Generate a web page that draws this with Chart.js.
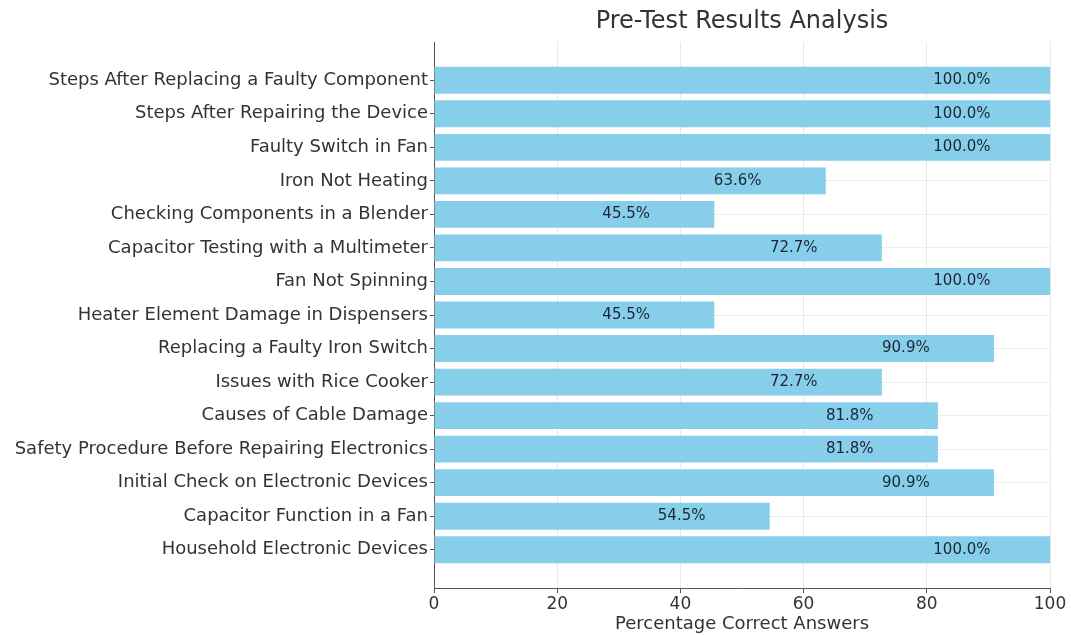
<!DOCTYPE html>
<html>
<head>
<meta charset="utf-8">
<title>Pre-Test Results Analysis</title>
<script src="https://cdn.jsdelivr.net/npm/chart.js@4.4.1/dist/chart.umd.min.js"></script>
<style>
    html, body { margin: 0; padding: 0; background: #ffffff; }
    #wrap { width: 1071px; height: 635px; }
</style>
</head>
<body>
<div id="wrap"><canvas id="resultsChart"></canvas></div>
<script>
// Question topics, listed top to bottom as in the picture
const topics = [
    "Steps After Replacing a Faulty Component",
    "Steps After Repairing the Device",
    "Faulty Switch in Fan",
    "Iron Not Heating",
    "Checking Components in a Blender",
    "Capacitor Testing with a Multimeter",
    "Fan Not Spinning",
    "Heater Element Damage in Dispensers",
    "Replacing a Faulty Iron Switch",
    "Issues with Rice Cooker",
    "Causes of Cable Damage",
    "Safety Procedure Before Repairing Electronics",
    "Initial Check on Electronic Devices",
    "Capacitor Function in a Fan",
    "Household Electronic Devices"
];

// Percentage of correct answers per topic
const percentCorrect = [100.0, 100.0, 100.0, 63.6, 45.5, 72.7, 100.0, 45.5, 90.9, 72.7, 81.8, 81.8, 90.9, 54.5, 100.0];

// X axis ticks
const xTicks = [0, 20, 40, 60, 80, 100];

const chartTitle = "Pre-Test Results Analysis";
const FONT = "'DejaVu Sans', sans-serif";

// Title centred over the plot area, and the percentage inside each bar
const barLabels = {
    id: 'barLabels',
    afterDatasetsDraw(chart) {
        const ctx = chart.ctx;
        const area = chart.chartArea;
        const xScale = chart.scales.x;
        const meta = chart.getDatasetMeta(0);
        ctx.save();
        ctx.font = "24px " + FONT;
        ctx.fillStyle = "#333333";
        ctx.textAlign = "center";
        ctx.textBaseline = "middle";
        ctx.fillText(chartTitle, (area.left + area.right) / 2, 22);

        ctx.font = "15px " + FONT;
        ctx.fillStyle = "#1c2633";
        meta.data.forEach((bar, i) => {
            const v = percentCorrect[i];
            ctx.fillText(v.toFixed(1) + "%", xScale.getPixelForValue(v - 14.3), bar.y);
        });
        ctx.restore();
    }
};

document.addEventListener('DOMContentLoaded', function() {
    const ctx = document.getElementById("resultsChart").getContext("2d");

    new Chart(ctx, {
        type: "bar",
        data: {
            datasets: [{
                data: percentCorrect.map((v, i) => ({ x: v, y: i })),
                backgroundColor: "#87ceeb",
                borderWidth: 0,
                barPercentage: 0.8,
                categoryPercentage: 1.0
            }]
        },
        options: {
            indexAxis: 'y',
            responsive: true,
            maintainAspectRatio: false,
            animation: false,
            layout: { padding: { left: 0, right: 21, top: 42, bottom: 0 } },
            plugins: {
                legend: { display: false },
                tooltip: { enabled: false },
                title: { display: false }
            },
            scales: {
                x: {
                    type: 'linear',
                    min: 0,
                    max: 100,
                    afterBuildTicks: scale => { scale.ticks = xTicks.map(v => ({ value: v })); },
                    afterFit: scale => { scale.height = 47; },
                    ticks: {
                        color: "#333333",
                        font: { family: FONT, size: 17 },
                        padding: 1,
                        maxRotation: 0
                    },
                    grid: {
                        color: "#e9e9e9",
                        tickColor: "#555555",
                        tickLength: 5
                    },
                    border: { display: true, color: "#555555", width: 1 },
                    title: {
                        display: true,
                        text: "Percentage Correct Answers",
                        color: "#333333",
                        font: { family: FONT, size: 18 },
                        padding: { top: 0, bottom: 0 }
                    }
                },
                y: {
                    type: 'linear',
                    reverse: true,
                    offset: false,
                    min: -1.14,
                    max: topics.length - 1 + 1.14,
                    afterBuildTicks: scale => { scale.ticks = topics.map((t, i) => ({ value: i })); },
                    afterFit: scale => { scale.width = 434; },
                    ticks: {
                        color: "#333333",
                        font: { family: FONT, size: 18 },
                        padding: 2,
                        autoSkip: false,
                        callback: value => topics[value]
                    },
                    grid: {
                        offset: false,
                        color: "#ededed",
                        tickColor: "#555555",
                        tickLength: 4
                    },
                    border: { display: true, color: "#555555", width: 1 }
                }
            }
        },
        plugins: [barLabels]
    });
});
</script>
</body>
</html>
